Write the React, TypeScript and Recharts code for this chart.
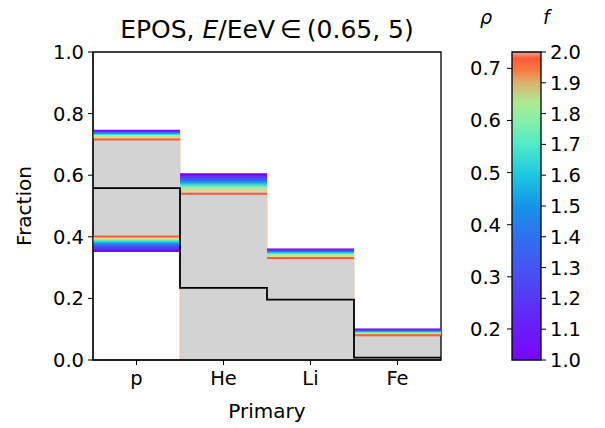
import React from 'react'
import {
  ComposedChart,
  Line,
  Area,
  XAxis,
  YAxis,
  ReferenceArea,
} from 'recharts'

const categories = ['p', 'He', 'Li', 'Fe']
const fLevels = [1.0, 1.1, 1.2, 1.3, 1.4, 1.5, 1.6, 1.7, 1.8, 1.9, 2.0]
const fColors = [
  '#7f00ff', '#6a1af9', '#5a36f5', '#4a4ef2', '#3868f0', '#1e8eea',
  '#1ac0e2', '#48e6cc', '#a0f09a', '#dcd890', '#ff5a2c',
]

// upper edge of each primary, one value per f level
const upperP = [0.744, 0.742, 0.74, 0.738, 0.736, 0.734, 0.732, 0.73, 0.727, 0.723, 0.716]
const upperHe = [0.603, 0.598, 0.593, 0.588, 0.583, 0.578, 0.572, 0.566, 0.559, 0.551, 0.54]
const upperLi = [0.359, 0.357, 0.355, 0.353, 0.351, 0.349, 0.347, 0.344, 0.341, 0.337, 0.331]
const upperFe = [0.099, 0.097, 0.095, 0.094, 0.092, 0.091, 0.089, 0.088, 0.086, 0.084, 0.08]
// lower edge (only p is above zero)
const lowerP = [0.354, 0.359, 0.364, 0.369, 0.373, 0.378, 0.383, 0.388, 0.392, 0.396, 0.401]

const bandLow = [0.354, 0, 0, 0]
const bandHigh = [0.745, 0.604, 0.36, 0.1]
const median = [0.558, 0.234, 0.196, 0.008]

const yTicks = [0, 0.2, 0.4, 0.6, 0.8, 1.0]
const rhoTicks = [0.2, 0.3, 0.4, 0.5, 0.6, 0.7]
const fTicks = [1.0, 1.1, 1.2, 1.3, 1.4, 1.5, 1.6, 1.7, 1.8, 1.9, 2.0]
const rhoRange = [0.1405, 0.7313]

const font = 'DejaVu Sans, sans-serif'
const tickStyle = { fontSize: 19.5, fill: '#000', fontFamily: font }
const labelStyle = { fontSize: 20, fill: '#000', fontFamily: font }

// step data: last category repeated at the right edge
const stepRows = categories.map((c, i) => ({
  x: i - 0.5,
  band: [bandLow[i], bandHigh[i]],
  median: median[i],
}))
stepRows.push({ x: categories.length - 0.5, band: [bandLow[3], bandHigh[3]], median: median[3] })

// horizontal segments only, broken between categories
function segments(values: (number | null)[]) {
  const rows: { x: number; y: number | null }[] = []
  values.forEach((v, i) => {
    if (v === null) return
    rows.push({ x: i - 0.5, y: v })
    rows.push({ x: i + 0.5, y: v })
    rows.push({ x: i + 0.5, y: null })
  })
  return rows
}

const upperLines = fLevels.map((_, k) => segments([upperP[k], upperHe[k], upperLi[k], upperFe[k]]))
const lowerLines = fLevels.map((_, k) => segments([lowerP[k], null, null, null]))

const gradStops = [
  [0, '#e6aaa2'], [0.02, '#ff5a35'], [0.06, '#f87a40'], [0.1, '#dcb070'],
  [0.16, '#b0e890'], [0.22, '#88f0a8'], [0.3, '#50eac8'], [0.4, '#1cc8e0'],
  [0.5, '#1494ea'], [0.6, '#3070f0'], [0.7, '#4456f2'], [0.8, '#5838f5'],
  [0.9, '#6a1cf9'], [1, '#7a06fe'],
]

function MainChart() {
  return (
    <ComposedChart width={445} height={428} data={stepRows} margin={{ top: 52, right: 4, bottom: 0, left: 0 }}>
      <XAxis
        dataKey="x"
        type="number"
        domain={[-0.5, 3.5]}
        ticks={[0, 1, 2, 3]}
        tickFormatter={(v: number) => categories[v]}
        tick={tickStyle}
        tickSize={5}
        tickMargin={6}
        stroke="#000"
        height={68}
        label={{ value: 'Primary', position: 'insideBottom', offset: 10, style: labelStyle }}
      />
      <YAxis
        type="number"
        domain={[0, 1]}
        ticks={yTicks}
        tickFormatter={(v: number) => v.toFixed(1)}
        tick={tickStyle}
        tickSize={5}
        tickMargin={4}
        stroke="#000"
        width={93}
        label={{ value: 'Fraction', angle: -90, position: 'insideLeft', offset: 24, style: { ...labelStyle, textAnchor: 'middle' } }}
      />
      <Area
        dataKey="band"
        type="stepAfter"
        fill="#d3d3d3"
        fillOpacity={1}
        stroke="#f2c0a0"
        strokeWidth={1}
        isAnimationActive={false}
      />
      {fLevels.map((f, k) => (
        <Line
          key={'u' + f}
          data={upperLines[k]}
          dataKey="y"
          stroke={fColors[k]}
          strokeWidth={2}
          dot={false}
          connectNulls={false}
          isAnimationActive={false}
        />
      ))}
      {fLevels.map((f, k) => (
        <Line
          key={'l' + f}
          data={lowerLines[k]}
          dataKey="y"
          stroke={fColors[k]}
          strokeWidth={2}
          dot={false}
          connectNulls={false}
          isAnimationActive={false}
        />
      ))}
      <Line
        dataKey="median"
        type="stepAfter"
        stroke="#000"
        strokeWidth={1.8}
        dot={false}
        isAnimationActive={false}
      />
      <ReferenceArea x1={-0.5} x2={3.5} y1={0} y2={1} fill="none" stroke="#000" strokeWidth={1.3} />
    </ComposedChart>
  )
}

function ColorBar() {
  return (
    <ComposedChart width={165} height={428} data={[{ x: 0 }, { x: 1 }]} margin={{ top: 52, right: 0, bottom: 68, left: 0 }}>
      <defs>
        <linearGradient id="cbar" x1="0" y1="0" x2="0" y2="1">
          {gradStops.map(([o, c]) => (
            <stop key={o as number} offset={o as number} stopColor={c as string} />
          ))}
        </linearGradient>
      </defs>
      <XAxis dataKey="x" type="number" domain={[0, 1]} hide />
      <YAxis
        yAxisId="rho"
        orientation="left"
        type="number"
        domain={rhoRange}
        ticks={rhoTicks}
        tickFormatter={(v: number) => v.toFixed(1)}
        tick={tickStyle}
        tickSize={5}
        tickMargin={6}
        axisLine={false}
        tickLine={{ stroke: '#000' }}
        width={72}
        allowDataOverflow
      />
      <YAxis
        yAxisId="f"
        orientation="right"
        type="number"
        domain={[1, 2]}
        ticks={fTicks}
        tickFormatter={(v: number) => v.toFixed(1)}
        tick={tickStyle}
        tickSize={5}
        tickMargin={4}
        axisLine={false}
        tickLine={{ stroke: '#000' }}
        width={64}
        allowDataOverflow
      />
      <ReferenceArea yAxisId="f" x1={0} x2={1} y1={1} y2={2} fill="url(#cbar)" fillOpacity={1} stroke="#000" strokeWidth={1.3} />
    </ComposedChart>
  )
}

export default function App() {
  return (
    <div style={{ position: 'absolute', left: 0, top: 0, width: 605, height: 428, background: '#fff', fontFamily: font }}>
      <div style={{ position: 'absolute', left: 0, top: 0 }}>
        <MainChart />
      </div>
      <div style={{ position: 'absolute', left: 440, top: 0 }}>
        <ColorBar />
      </div>
      <div style={{ position: 'absolute', left: 67, width: 400, top: 15, textAlign: 'center', fontSize: 25, lineHeight: '29px', whiteSpace: 'nowrap' }}>
        EPOS, <i>E</i>/EeV{'\u2009'}∈{'\u2009'}(0.65, 5)
      </div>
      <div style={{ position: 'absolute', left: 480, top: 6, fontSize: 19, fontStyle: 'italic' }}>ρ</div>
      <div style={{ position: 'absolute', left: 543, top: 6, fontSize: 19, fontStyle: 'italic' }}>f</div>
    </div>
  )
}
